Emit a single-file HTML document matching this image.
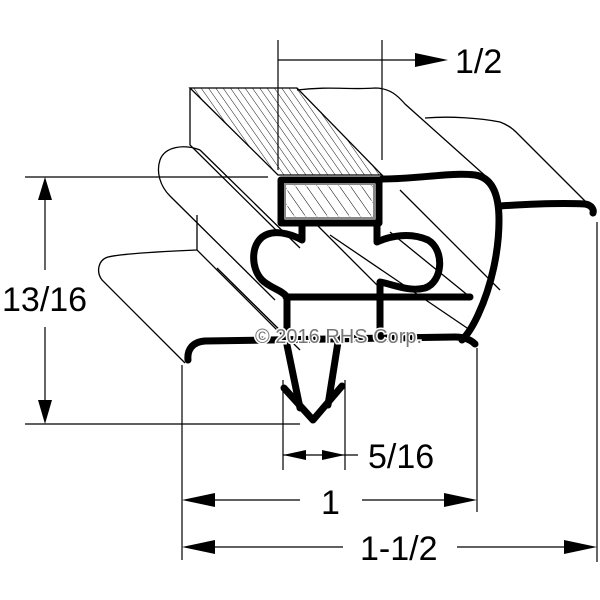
<!DOCTYPE html>
<html><head><style>html,body{margin:0;padding:0;background:#fff;}svg{display:block}</style></head>
<body>
<svg width="600" height="600" viewBox="0 0 600 600" xmlns="http://www.w3.org/2000/svg">
<defs>
<pattern id="h1" patternUnits="userSpaceOnUse" width="6" height="6" patternTransform="rotate(-35)">
<line x1="0" y1="0" x2="0" y2="6" stroke="#000" stroke-width="0.9"/>
</pattern>
<pattern id="h2" patternUnits="userSpaceOnUse" width="9" height="9" patternTransform="rotate(-35)">
<line x1="0" y1="0" x2="0" y2="9" stroke="#000" stroke-width="1"/>
</pattern>
</defs>
<g fill="none" stroke="#000" stroke-width="1.3">
<polygon points="190,88 297,88 382,175 278,175" fill="url(#h1)"/>
<path d="M190,88 L190,145 L278,232"/>
<path d="M297,90 C330,86 350,90 375,88 C390,88 398,96 405,104 L490,180"/>
<path d="M425,118 C450,116 480,118 500,122 C508,125 512,128 516,132 L592,208"/>
<path d="M200,150 C185,144 165,146 160,160 C156,172 160,186 170,196 L275,300"/>
<path d="M200,150 L300,248"/>
<path d="M197,215 L197,250 L285,338"/>
<path d="M197,250 C150,252 120,254 108,257 C98,260 96,272 102,280 L185,363"/>
<path d="M217,268 L300,350 M232,283 L300,350"/>
<path d="M302,210 L382,290 M330,235 L470,330 M390,232 L470,297 M400,190 L500,290"/>
</g>
<g stroke="#000" stroke-width="1.2" fill="none">
<line x1="278" y1="40" x2="278" y2="170"/>
<line x1="382" y1="40" x2="382" y2="160"/>
<line x1="278" y1="60" x2="420" y2="60"/>
<line x1="25" y1="177" x2="268" y2="177"/>
<line x1="25" y1="424" x2="300" y2="424"/>
<line x1="45" y1="195" x2="45" y2="270"/>
<line x1="45" y1="327" x2="45" y2="405"/>
<line x1="283" y1="380" x2="283" y2="470"/>
<line x1="345" y1="380" x2="345" y2="470"/>
<line x1="283" y1="455" x2="358" y2="455"/>
<line x1="182" y1="365" x2="182" y2="560"/>
<line x1="477" y1="348" x2="477" y2="512"/>
<line x1="597" y1="222" x2="597" y2="562"/>
<line x1="200" y1="500" x2="300" y2="500"/>
<line x1="362" y1="500" x2="460" y2="500"/>
<line x1="200" y1="547" x2="343" y2="547"/>
<line x1="457" y1="547" x2="580" y2="547"/>
</g>
<g fill="#000">
<polygon points="415,53 448,60 415,67"/>
<polygon points="45,177 38,200 52,200"/>
<polygon points="45,424 38,400 52,400"/>
<polygon points="283,455 306,450 306,460"/>
<polygon points="345,455 322,450 322,460"/>
<polygon points="182,500 215,493 215,507"/>
<polygon points="477,500 444,493 444,507"/>
<polygon points="182,547 215,540 215,554"/>
<polygon points="597,547 564,540 564,554"/>
</g>
<g fill="none" stroke="#000" stroke-width="7" stroke-linecap="round" stroke-linejoin="round">
<rect x="281" y="180" width="98" height="43" fill="#fff"/>
<path d="M382,179 C420,179 450,172 475,175 C495,178 499,200 499,220 C499,250 492,285 478,315 C472,328 466,336 462,340"/>
<path d="M500,206 C530,204 565,203 585,204 C592,205 594,210 593,213"/>
<path d="M188,360 C187,350 192,342 205,341 L455,337 C466,337 472,341 475,344"/>
<path d="M302,224 L302,240 C295,236 280,230 268,234 C250,240 250,268 262,280 C270,288 282,290 287,297"/>
<path d="M377,224 L377,242 C390,236 410,232 428,240 C445,250 443,282 425,288 C410,292 395,285 380,282 L380,340"/>
<path d="M286,297 L470,297"/>
<path d="M287,297 L287,345 L300,408"/>
<path d="M338,342 L328,405"/>
<path d="M284,388 L313,420 L342,386"/>
</g>
<rect x="285" y="184" width="89" height="34" fill="url(#h2)" stroke="#888" stroke-width="2"/>
<rect x="287" y="186" width="85" height="30" fill="none" stroke="#fff" stroke-width="1"/>
<g font-family="Liberation Sans, sans-serif" fill="#000">
<text x="455" y="73" font-size="34">1/2</text>
<text x="2" y="311" font-size="34">13/16</text>
<text x="368" y="468" font-size="34">5/16</text>
<text x="321" y="514" font-size="34">1</text>
<text x="360" y="560" font-size="34">1-1/2</text>
<text x="255" y="343" font-size="20" fill="#777" stroke="#fff" stroke-width="3" paint-order="stroke">© 2016 RHS Corp.</text>
</g>
</svg>
</body></html>
